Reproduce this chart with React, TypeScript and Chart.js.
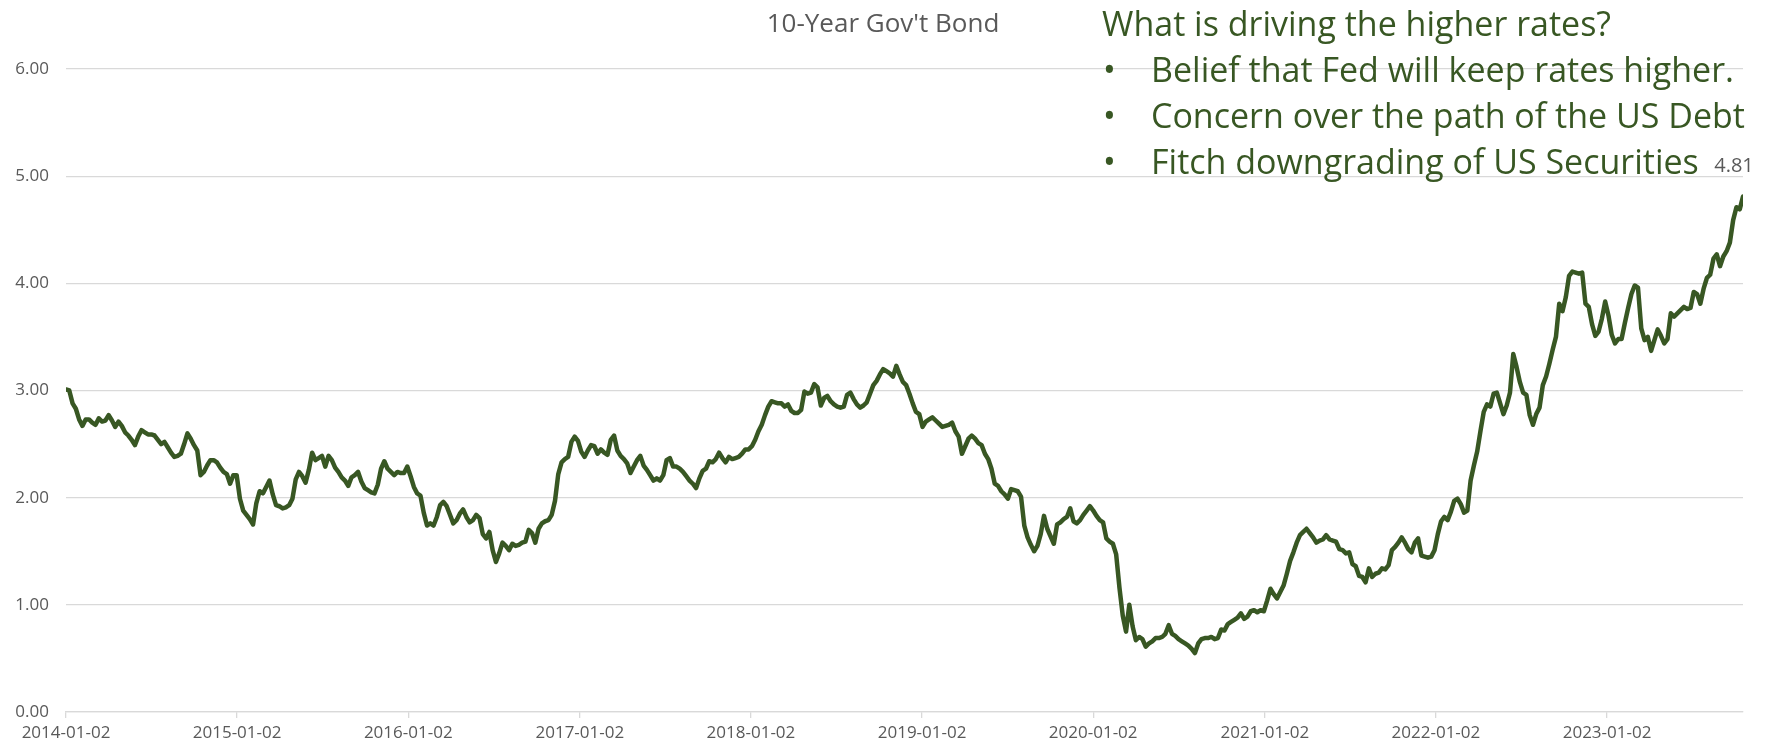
import React, { useEffect, useRef } from "react";
import { Chart, registerables } from "chart.js";

Chart.register(...registerables);

// ---- data ----
const startDate = "2014-01-02";
const weekStepDays = 7;
const yearTickLabels = [
  "2014-01-02", "2015-01-02", "2016-01-02", "2017-01-02", "2018-01-02",
  "2019-01-02", "2020-01-02", "2021-01-02", "2022-01-02", "2023-01-02",
];
const chartTitle = "10-Year Gov't Bond";
const noteHeading = "What is driving the higher rates?";
const noteBullets = [
  "Belief that Fed will keep rates higher.",
  "Concern over the path of the US Debt",
  "Fitch downgrading of US Securities",
];

const yields2014 = [3.01, 3.0, 2.88, 2.83, 2.73, 2.67, 2.73, 2.73, 2.7, 2.68, 2.74, 2.71, 2.72, 2.77, 2.72, 2.66, 2.71, 2.67, 2.61, 2.58, 2.54, 2.49, 2.57, 2.63, 2.61, 2.59, 2.59, 2.58, 2.54, 2.5, 2.52, 2.47, 2.42, 2.38, 2.39, 2.41, 2.5, 2.6, 2.55, 2.49, 2.44, 2.21, 2.24, 2.3, 2.35, 2.35, 2.33, 2.28, 2.24, 2.22, 2.13, 2.21];
const yields2015 = [2.21, 1.99, 1.88, 1.84, 1.8, 1.75, 1.95, 2.06, 2.04, 2.1, 2.16, 2.03, 1.93, 1.92, 1.9, 1.91, 1.93, 1.99, 2.17, 2.24, 2.2, 2.14, 2.26, 2.42, 2.35, 2.37, 2.39, 2.29, 2.39, 2.35, 2.28, 2.24, 2.19, 2.16, 2.11, 2.19, 2.21, 2.24, 2.15, 2.09, 2.07, 2.05, 2.04, 2.12, 2.27, 2.34, 2.27, 2.24, 2.21, 2.24, 2.23, 2.23];
const yields2016 = [2.29, 2.2, 2.1, 2.04, 2.02, 1.86, 1.74, 1.76, 1.74, 1.82, 1.93, 1.96, 1.92, 1.84, 1.76, 1.79, 1.85, 1.89, 1.82, 1.77, 1.79, 1.84, 1.81, 1.66, 1.62, 1.68, 1.51, 1.4, 1.48, 1.58, 1.55, 1.51, 1.57, 1.55, 1.56, 1.58, 1.59, 1.7, 1.67, 1.58, 1.71, 1.76, 1.78, 1.79, 1.84, 1.97, 2.22, 2.33, 2.36, 2.38, 2.52, 2.57];
const yields2017 = [2.53, 2.43, 2.38, 2.44, 2.49, 2.48, 2.41, 2.45, 2.42, 2.4, 2.54, 2.58, 2.44, 2.39, 2.36, 2.32, 2.23, 2.29, 2.35, 2.39, 2.3, 2.26, 2.21, 2.16, 2.18, 2.16, 2.21, 2.35, 2.37, 2.29, 2.29, 2.27, 2.24, 2.2, 2.16, 2.13, 2.09, 2.18, 2.25, 2.27, 2.34, 2.33, 2.36, 2.42, 2.37, 2.33, 2.38, 2.36, 2.37, 2.38, 2.41, 2.45];
const yields2018 = [2.45, 2.48, 2.54, 2.62, 2.68, 2.77, 2.85, 2.9, 2.89, 2.88, 2.88, 2.85, 2.87, 2.81, 2.79, 2.79, 2.82, 2.99, 2.97, 2.98, 3.06, 3.03, 2.86, 2.93, 2.95, 2.9, 2.87, 2.85, 2.84, 2.85, 2.96, 2.98, 2.92, 2.87, 2.84, 2.86, 2.89, 2.97, 3.05, 3.09, 3.15, 3.2, 3.18, 3.16, 3.13, 3.23, 3.15, 3.08, 3.05, 2.97, 2.88, 2.8];
const yields2019 = [2.78, 2.66, 2.71, 2.73, 2.75, 2.72, 2.69, 2.66, 2.67, 2.68, 2.7, 2.62, 2.57, 2.41, 2.48, 2.55, 2.58, 2.55, 2.51, 2.49, 2.41, 2.36, 2.27, 2.13, 2.11, 2.06, 2.03, 1.99, 2.08, 2.07, 2.06, 2.01, 1.74, 1.63, 1.56, 1.5, 1.55, 1.66, 1.83, 1.71, 1.64, 1.57, 1.75, 1.77, 1.8, 1.82, 1.9, 1.78, 1.76, 1.79, 1.84, 1.88];
const yields2020 = [1.92, 1.88, 1.83, 1.79, 1.77, 1.62, 1.59, 1.57, 1.47, 1.16, 0.9, 0.75, 1.0, 0.8, 0.67, 0.7, 0.68, 0.61, 0.64, 0.66, 0.69, 0.69, 0.7, 0.73, 0.81, 0.73, 0.71, 0.68, 0.66, 0.64, 0.62, 0.59, 0.55, 0.64, 0.68, 0.69, 0.69, 0.7, 0.68, 0.69, 0.77, 0.76, 0.82, 0.84, 0.86, 0.88, 0.92, 0.87, 0.89, 0.94, 0.95, 0.93];
const yields2021 = [0.95, 0.94, 1.04, 1.15, 1.1, 1.06, 1.12, 1.18, 1.29, 1.41, 1.49, 1.58, 1.65, 1.68, 1.71, 1.67, 1.63, 1.58, 1.6, 1.61, 1.65, 1.61, 1.6, 1.59, 1.52, 1.51, 1.48, 1.49, 1.38, 1.36, 1.27, 1.26, 1.21, 1.34, 1.26, 1.29, 1.3, 1.34, 1.33, 1.37, 1.51, 1.54, 1.58, 1.63, 1.58, 1.52, 1.49, 1.58, 1.62, 1.46, 1.45, 1.44];
const yields2022 = [1.45, 1.51, 1.66, 1.78, 1.82, 1.79, 1.87, 1.97, 1.99, 1.94, 1.86, 1.88, 2.16, 2.3, 2.43, 2.62, 2.8, 2.87, 2.85, 2.97, 2.98, 2.88, 2.78, 2.86, 2.98, 3.34, 3.22, 3.08, 2.98, 2.96, 2.77, 2.68, 2.78, 2.84, 3.05, 3.13, 3.25, 3.38, 3.5, 3.81, 3.74, 3.87, 4.07, 4.11, 4.1, 4.09, 4.1, 3.81, 3.78, 3.62, 3.51, 3.55];
const yields2023 = [3.67, 3.83, 3.7, 3.52, 3.44, 3.48, 3.48, 3.63, 3.77, 3.9, 3.98, 3.96, 3.58, 3.47, 3.5, 3.37, 3.47, 3.57, 3.51, 3.44, 3.48, 3.72, 3.69, 3.72, 3.75, 3.78, 3.76, 3.77, 3.92, 3.9, 3.81, 3.95, 4.05, 4.08, 4.23, 4.27, 4.16, 4.25, 4.3, 4.38, 4.59, 4.71, 4.69, 4.81];

const yTickMin = 0;
const yTickMax = 6;
const yTickStep = 1;

// ---- derived ----
const allYields = [
  ...yields2014, ...yields2015, ...yields2016, ...yields2017, ...yields2018,
  ...yields2019, ...yields2020, ...yields2021, ...yields2022, ...yields2023,
];
const DAY_MS = 86400000;
const startMs = Date.parse(startDate + "T00:00:00Z");
const dayOffset = (s: string) => Math.round((Date.parse(s + "T00:00:00Z") - startMs) / DAY_MS);
const points = allYields.map((v, i) => ({ x: i * weekStepDays, y: v }));
const lastX = (allYields.length - 1) * weekStepDays;

const FONT = "'Open Sans', 'Noto Sans', sans-serif";
const GREEN = "#385723";
const GRAY_TEXT = "#595959";
const GRID = "#d9d9d9";

const overlayPlugin = {
  id: "overlayText",
  afterDatasetsDraw(chart: any) {
    const ctx = chart.ctx;
    ctx.save();
    // title
    ctx.fillStyle = GRAY_TEXT;
    ctx.font = `26px ${FONT}`;
    ctx.textAlign = "center";
    ctx.textBaseline = "middle";
    ctx.fillText(chartTitle, 883, 25);
    // last value label
    const meta = chart.getDatasetMeta(0);
    const pt = meta.data[meta.data.length - 1];
    if (pt) {
      ctx.font = `20px ${FONT}`;
      ctx.fillText(allYields[allYields.length - 1].toFixed(2), pt.x - 9, pt.y - 30);
    }
    ctx.restore();
  },
};

export default function App() {
  const canvasRef = useRef<HTMLCanvasElement | null>(null);

  useEffect(() => {
    if (!canvasRef.current) return;
    const chart = new Chart(canvasRef.current, {
      type: "line",
      data: {
        datasets: [
          {
            label: chartTitle,
            data: points,
            borderColor: GREEN,
            backgroundColor: GREEN,
            borderWidth: 4.5,
            pointRadius: 0,
            tension: 0,
            borderJoinStyle: "round",
            borderCapStyle: "round",
          },
        ],
      },
      options: {
        animation: false,
        responsive: false,
        devicePixelRatio: 1,
        layout: { padding: { top: 69, right: 35, left: 0, bottom: 0 } },
        plugins: {
          legend: { display: false },
          tooltip: { enabled: false },
          title: { display: false },
        },
        scales: {
          x: {
            type: "linear",
            min: 0,
            max: lastX,
            afterBuildTicks: (scale: any) => {
              scale.ticks = yearTickLabels.map((l) => ({ value: dayOffset(l) }));
            },
            afterFit: (scale: any) => {
              scale.height = 35;
            },
            ticks: {
              autoSkip: false,
              maxRotation: 0,
              color: GRAY_TEXT,
              font: { family: FONT, size: 17 },
              padding: 5,
              callback: (_v: any, i: number) => yearTickLabels[i],
            },
            grid: {
              display: true,
              drawOnChartArea: false,
              drawTicks: true,
              tickLength: 6,
              color: GRID,
              lineWidth: 1.3,
            },
            border: { display: true, color: GRID, width: 1.3 },
          },
          y: {
            type: "linear",
            min: yTickMin,
            max: yTickMax,
            afterFit: (scale: any) => {
              scale.width = 66;
            },
            ticks: {
              stepSize: yTickStep,
              color: GRAY_TEXT,
              font: { family: FONT, size: 17 },
              padding: 17,
              callback: (v: any) => Number(v).toFixed(2),
            },
            grid: { color: GRID, lineWidth: 1.3, drawTicks: false },
            border: { display: false },
          },
        },
      },
      plugins: [overlayPlugin],
    });
    return () => chart.destroy();
  }, []);

  return (
    <div style={{ position: "absolute", left: 0, top: 0, width: 1778, height: 747, background: "#fff" }}>
      <canvas ref={canvasRef} width={1778} height={747} style={{ display: "block" }} />
      <div
        style={{
          position: "absolute",
          left: 1102,
          top: 0,
          fontFamily: FONT,
          fontSize: 34,
          lineHeight: "46px",
          color: GREEN,
          whiteSpace: "nowrap",
        }}
      >
        <div>{noteHeading}</div>
        {noteBullets.map((b) => (
          <div key={b} style={{ position: "relative", paddingLeft: 49 }}>
            <span style={{ position: "absolute", left: 1 }}>•</span>
            {b}
          </div>
        ))}
      </div>
    </div>
  );
}
